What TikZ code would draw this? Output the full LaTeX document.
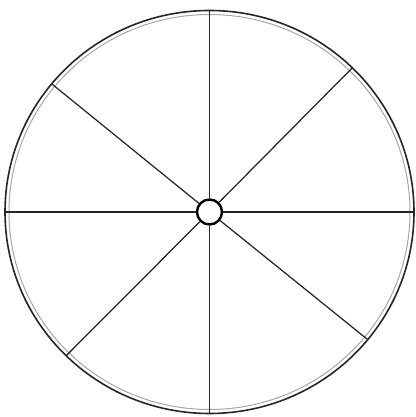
\documentclass[tikz,border=0pt]{standalone}
\usetikzlibrary{calc}
\begin{document}
\begin{tikzpicture}[x=1pt,y=1pt,
  rim/.style={line width=1.6pt,draw=black!85},
  innerrim/.style={line width=1pt,draw=black!35},
  spoke/.style={line width=1.25pt,draw=black!85},
  hubstyle/.style={circle,draw=black,line width=2.4pt,minimum size=25pt,inner sep=0pt,fill=white}]
\useasboundingbox (0,0) rectangle (415,417);
\coordinate (c) at (209.5,205);
\draw[innerrim] (c) ellipse [x radius=200.5, y radius=197.5];
\draw[rim] (c) ellipse [x radius=204.5, y radius=201.5];
\foreach \a/\n in {90/t,270/b,0/r,180/l,140.5/ul,45.7/ur,225.5/ll,320.7/lr}{
  \coordinate (rim\n) at ($(c)+(\a:204.5 and 201.5)$);
}
\node[hubstyle] (hub) at (c) {};
\foreach \n in {t,b,r,l,ul,ur,ll,lr}{
  \draw[spoke] (hub) -- (rim\n);
}
\end{tikzpicture}
\end{document}
